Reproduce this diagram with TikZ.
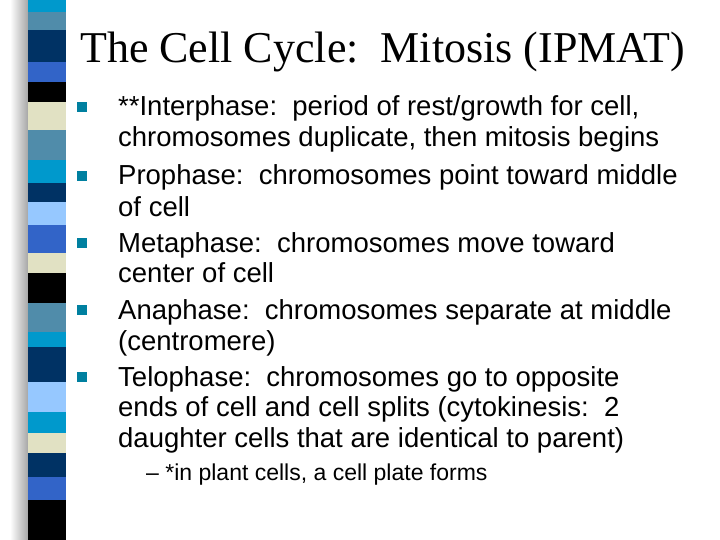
\documentclass[tikz,border=0pt]{standalone}
\usepackage{fontspec}
\setmainfont{Liberation Sans}
\newfontfamily\titlefont{Liberation Serif}
\definecolor{cyanb}{RGB}{0,153,204}
\definecolor{steelb}{RGB}{80,140,170}
\definecolor{navyb}{RGB}{0,50,100}
\definecolor{royalb}{RGB}{50,100,200}
\definecolor{creamb}{RGB}{225,225,195}
\definecolor{lightb}{RGB}{150,200,255}
\definecolor{bul}{RGB}{0,128,160}
\begin{document}
\begin{tikzpicture}[x=1pt,y=-1pt,
  txt/.style={anchor=base west,inner sep=0,font=\fontsize{27.5}{30}\selectfont},
  bsq/.style={fill=bul,minimum size=10pt,inner sep=0}]
\useasboundingbox (0,0) rectangle (720,540);
\fill[white] (0,0) rectangle (720,540);
\shade[left color=white,right color=gray!70] (10,0) rectangle (28,540);
\foreach \a/\b/\c in {0/12/cyanb,12/30/steelb,30/62/navyb,62/82/royalb,82/102/black,102/130/creamb,130/160/steelb,160/183/cyanb,183/202/navyb,202/225/lightb,225/253/royalb,253/273/creamb,273/303/black,303/332/steelb,332/347/cyanb,347/382/navyb,382/412/lightb,412/433/cyanb,433/453/creamb,453/477/navyb,477/500/royalb,500/540/black}
  \fill[\c] (28,\a) rectangle (66,\b);
\node[anchor=base west,inner sep=0,font=\titlefont\fontsize{44}{48}\selectfont] (title) at (80,63) {The Cell Cycle:\ \ Mitosis (IPMAT)};
\foreach \n/\y in {1/107,2/176,3/243,4/310,5/377}
  \node[bsq] (b\n) at (82,\y) {};
\node[txt] (l1) at (118,116) {**Interphase:\ \ period of rest/growth for cell,};
\node[txt] (l2) at (118,147) {chromosomes duplicate, then mitosis begins};
\node[txt] (l3) at (118,185) {Prophase:\ \ chromosomes point toward middle};
\node[txt] (l4) at (118,216) {of cell};
\node[txt] (l5) at (118,252) {Metaphase:\ \ chromosomes move toward};
\node[txt] (l6) at (118,282) {center of cell};
\node[txt] (l7) at (118,319) {Anaphase:\ \ chromosomes separate at middle};
\node[txt] (l8) at (118,350) {(centromere)};
\node[txt] (l9) at (118,386) {Telophase:\ \ chromosomes go to opposite};
\node[txt] (l10) at (118,416) {ends of cell and cell splits (cytokinesis:\ \ 2};
\node[txt] (l11) at (118,447) {daughter cells that are identical to parent)};
\node[anchor=base west,inner sep=0,font=\fontsize{23}{26}\selectfont] (s1) at (146,480) {– *in plant cells, a cell plate forms};
\end{tikzpicture}
\end{document}
